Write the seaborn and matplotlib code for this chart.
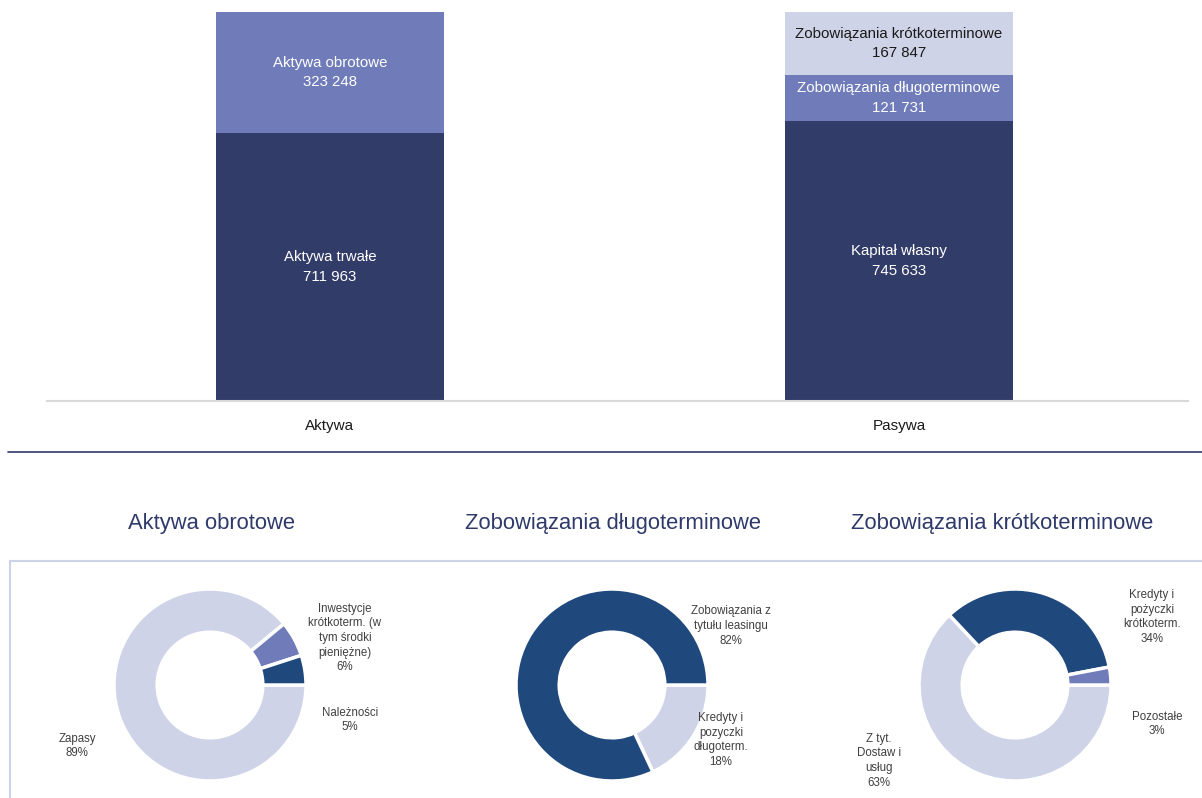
import matplotlib
matplotlib.use("Agg")
import matplotlib.pyplot as plt
import pandas as pd
import seaborn as sns
from matplotlib.lines import Line2D

# bilans (tys. zł)
sides = ["Aktywa", "Pasywa"]
aktywa_items = ["Aktywa trwałe", "Aktywa obrotowe"]
aktywa_values = [711963, 323248]
pasywa_items = ["Kapitał własny", "Zobowiązania długoterminowe", "Zobowiązania krótkoterminowe"]
pasywa_values = [745633, 121731, 167847]

# struktura poszczególnych pozycji (%)
obrotowe_labels = ["Zapasy", "Inwestycje\nkrótkoterm. (w\ntym środki\npieniężne)", "Należności"]
obrotowe_pct = [89, 6, 5]
dlugo_labels = ["Kredyty i\npozyczki\ndługoterm.", "Zobowiązania z\ntytułu leasingu"]
dlugo_pct = [18, 82]
krotko_labels = ["Z tyt.\nDostaw i\nusług", "Kredyty i\npożyczki\nkrótkoterm.", "Pozostałe"]
krotko_pct = [63, 34, 3]

DARK = "#323c68"
MID = "#6f7cb9"
LIGHT = "#cfd3e8"
PIE_DARK = "#1f497d"
NAVY = "#2f3a6b"
W, H = 1202, 798

sns.set_style("white")
plt.rcParams["font.family"] = ["Liberation Sans", "DejaVu Sans"]

rows = []
for side, items, values in [("Aktywa", aktywa_items, aktywa_values), ("Pasywa", pasywa_items, pasywa_values)]:
    cum = 0
    for level, (item, v) in enumerate(zip(items, values)):
        rows.append(dict(side=side, item=item, level=level, value=v, bottom=cum, top=cum + v))
        cum += v
df = pd.DataFrame(rows)

fig = plt.figure(figsize=(W / 100, H / 100), dpi=100)

# --- stacked bars (cumulative bars drawn tallest first) ---
ax = fig.add_axes([47 / W, 1 - 401 / H, (1188 - 47) / W, (401 - 12) / H])
layer_colors = [DARK, MID, LIGHT]
text_colors = ["white", "white", "#1a1a1a"]
for level in sorted(df["level"].unique(), reverse=True):
    sub = df[df["level"] == level]
    sns.barplot(data=sub, x="side", y="top", order=sides, color=layer_colors[level],
                saturation=1, width=0.4, errorbar=None, linewidth=0, edgecolor="none", ax=ax)

for _, r in df.iterrows():
    ax.text(sides.index(r["side"]), r["bottom"] + r["value"] / 2,
            f"{r['item']}\n{r['value']:,}".replace(",", " "),
            ha="center", va="center", fontsize=10.8, linespacing=1.5,
            color=text_colors[r["level"]])

ax.set_xlim(-0.497, 1.508)
ax.set_ylim(0, df["top"].max())
ax.set_xlabel("")
ax.set_ylabel("")
ax.set_yticks([])
for s in ["left", "right", "top"]:
    ax.spines[s].set_visible(False)
ax.spines["bottom"].set_color("#d9d9d9")
ax.spines["bottom"].set_linewidth(1.5)
ax.tick_params(axis="x", length=0, pad=13, labelsize=11, labelcolor="#1a1a1a")

# separator and frame lines
fig.add_artist(Line2D([8 / W, 1], [1 - 452 / H] * 2, color=NAVY, lw=1.2))
fig.add_artist(Line2D([10 / W, 1], [1 - 561 / H] * 2, color=LIGHT, lw=1.5))
fig.add_artist(Line2D([10 / W] * 2, [1 - 561 / H, 0], color=LIGHT, lw=1.5))

# --- donuts ---
donuts = [
    ("Aktywa obrotowe", obrotowe_labels, obrotowe_pct, [LIGHT, MID, PIE_DARK], 210, 211,
     [(-1.385, -0.635), (1.406, 0.49), (1.458, -0.365)]),
    ("Zobowiązania długoterminowe", dlugo_labels, dlugo_pct, [LIGHT, PIE_DARK], 612, 613,
     [(1.135, -0.573), (1.24, 0.615)]),
    ("Zobowiązania krótkoterminowe", krotko_labels, krotko_pct, [LIGHT, PIE_DARK, MID], 1015, 1002,
     [(-1.417, -0.79), (1.427, 0.708), (1.479, -0.406)]),
]
cy, half, rad = 685, 150, 96
for title, labels, pct, colors, cx, tx, pos in donuts:
    pax = fig.add_axes([(cx - half) / W, 1 - (cy + half) / H, 2 * half / W, 2 * half / H])
    pax.pie(pct, colors=colors, startangle=0, counterclock=False, radius=1,
            wedgeprops=dict(width=0.45, edgecolor="white", linewidth=2.5))
    lim = half / rad
    pax.set_xlim(-lim, lim)
    pax.set_ylim(-lim, lim)
    pax.axis("off")
    for lab, p, (x, y) in zip(labels, pct, pos):
        pax.text(x, y, f"{lab}\n{p}%", ha="center", va="center", fontsize=8.3,
                 color="#404040", linespacing=1.3)
    fig.text(tx / W, 1 - 529 / H, title, ha="center", va="baseline",
             fontsize=15.8, color=NAVY)

fig.savefig("out.png", dpi=100)
